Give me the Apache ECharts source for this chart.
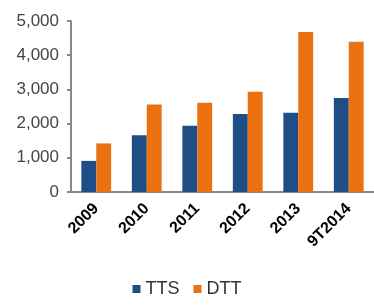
<!DOCTYPE html>
<html>
<head>
<meta charset="utf-8">
<script src="https://cdn.jsdelivr.net/npm/echarts@6/dist/echarts.min.js"></script>
<style>
  html, body { margin: 0; padding: 0; background: #fff; }
  #chart { width: 374px; height: 305px; }
</style>
</head>
<body>
<div id="chart"></div>
<script>
// Categories and values
const years = ['2009', '2010', '2011', '2012', '2013', '9T2014'];
const ttsValues = [910, 1660, 1940, 2280, 2320, 2750];
const dttValues = [1420, 2560, 2610, 2930, 4680, 4390];
const yTicks = [0, 1000, 2000, 3000, 4000, 5000];

const chart = echarts.init(document.getElementById('chart'));

const option = {
    animation: false,
    color: ['#1f4e86', '#ec7211'],
    grid: {
        left: 71,
        right: 0,
        top: 21,
        bottom: 113
    },
    legend: {
        bottom: 2,
        left: 'center',
        icon: 'rect',
        itemWidth: 8,
        itemHeight: 8,
        itemGap: 14,
        textStyle: {
            fontFamily: 'Liberation Sans',
            fontSize: 18,
            color: '#333'
        },
        data: ['TTS', 'DTT']
    },
    xAxis: {
        type: 'category',
        data: years,
        axisLine: {
            lineStyle: { color: '#888', width: 2 }
        },
        axisTick: { show: false },
        axisLabel: {
            rotate: 45,
            interval: 0,
            margin: 14,
            fontFamily: 'Liberation Sans',
            fontWeight: 'bold',
            fontSize: 16,
            color: '#000'
        }
    },
    yAxis: {
        type: 'value',
        min: yTicks[0],
        max: yTicks[yTicks.length - 1],
        interval: 1000,
        axisLine: {
            show: true,
            lineStyle: { color: '#888', width: 2 }
        },
        axisTick: {
            show: true,
            length: 4,
            lineStyle: { color: '#888', width: 2 }
        },
        splitLine: { show: false },
        axisLabel: {
            margin: 12,
            fontFamily: 'Liberation Sans',
            fontSize: 17,
            color: '#444',
            formatter: function (v) {
                return v.toLocaleString('en-US');
            }
        }
    },
    series: [
        {
            name: 'TTS',
            type: 'bar',
            barGap: '0%',
            barCategoryGap: '41%',
            data: ttsValues
        },
        {
            name: 'DTT',
            type: 'bar',
            data: dttValues
        }
    ]
};

chart.setOption(option);
</script>
</body>
</html>
